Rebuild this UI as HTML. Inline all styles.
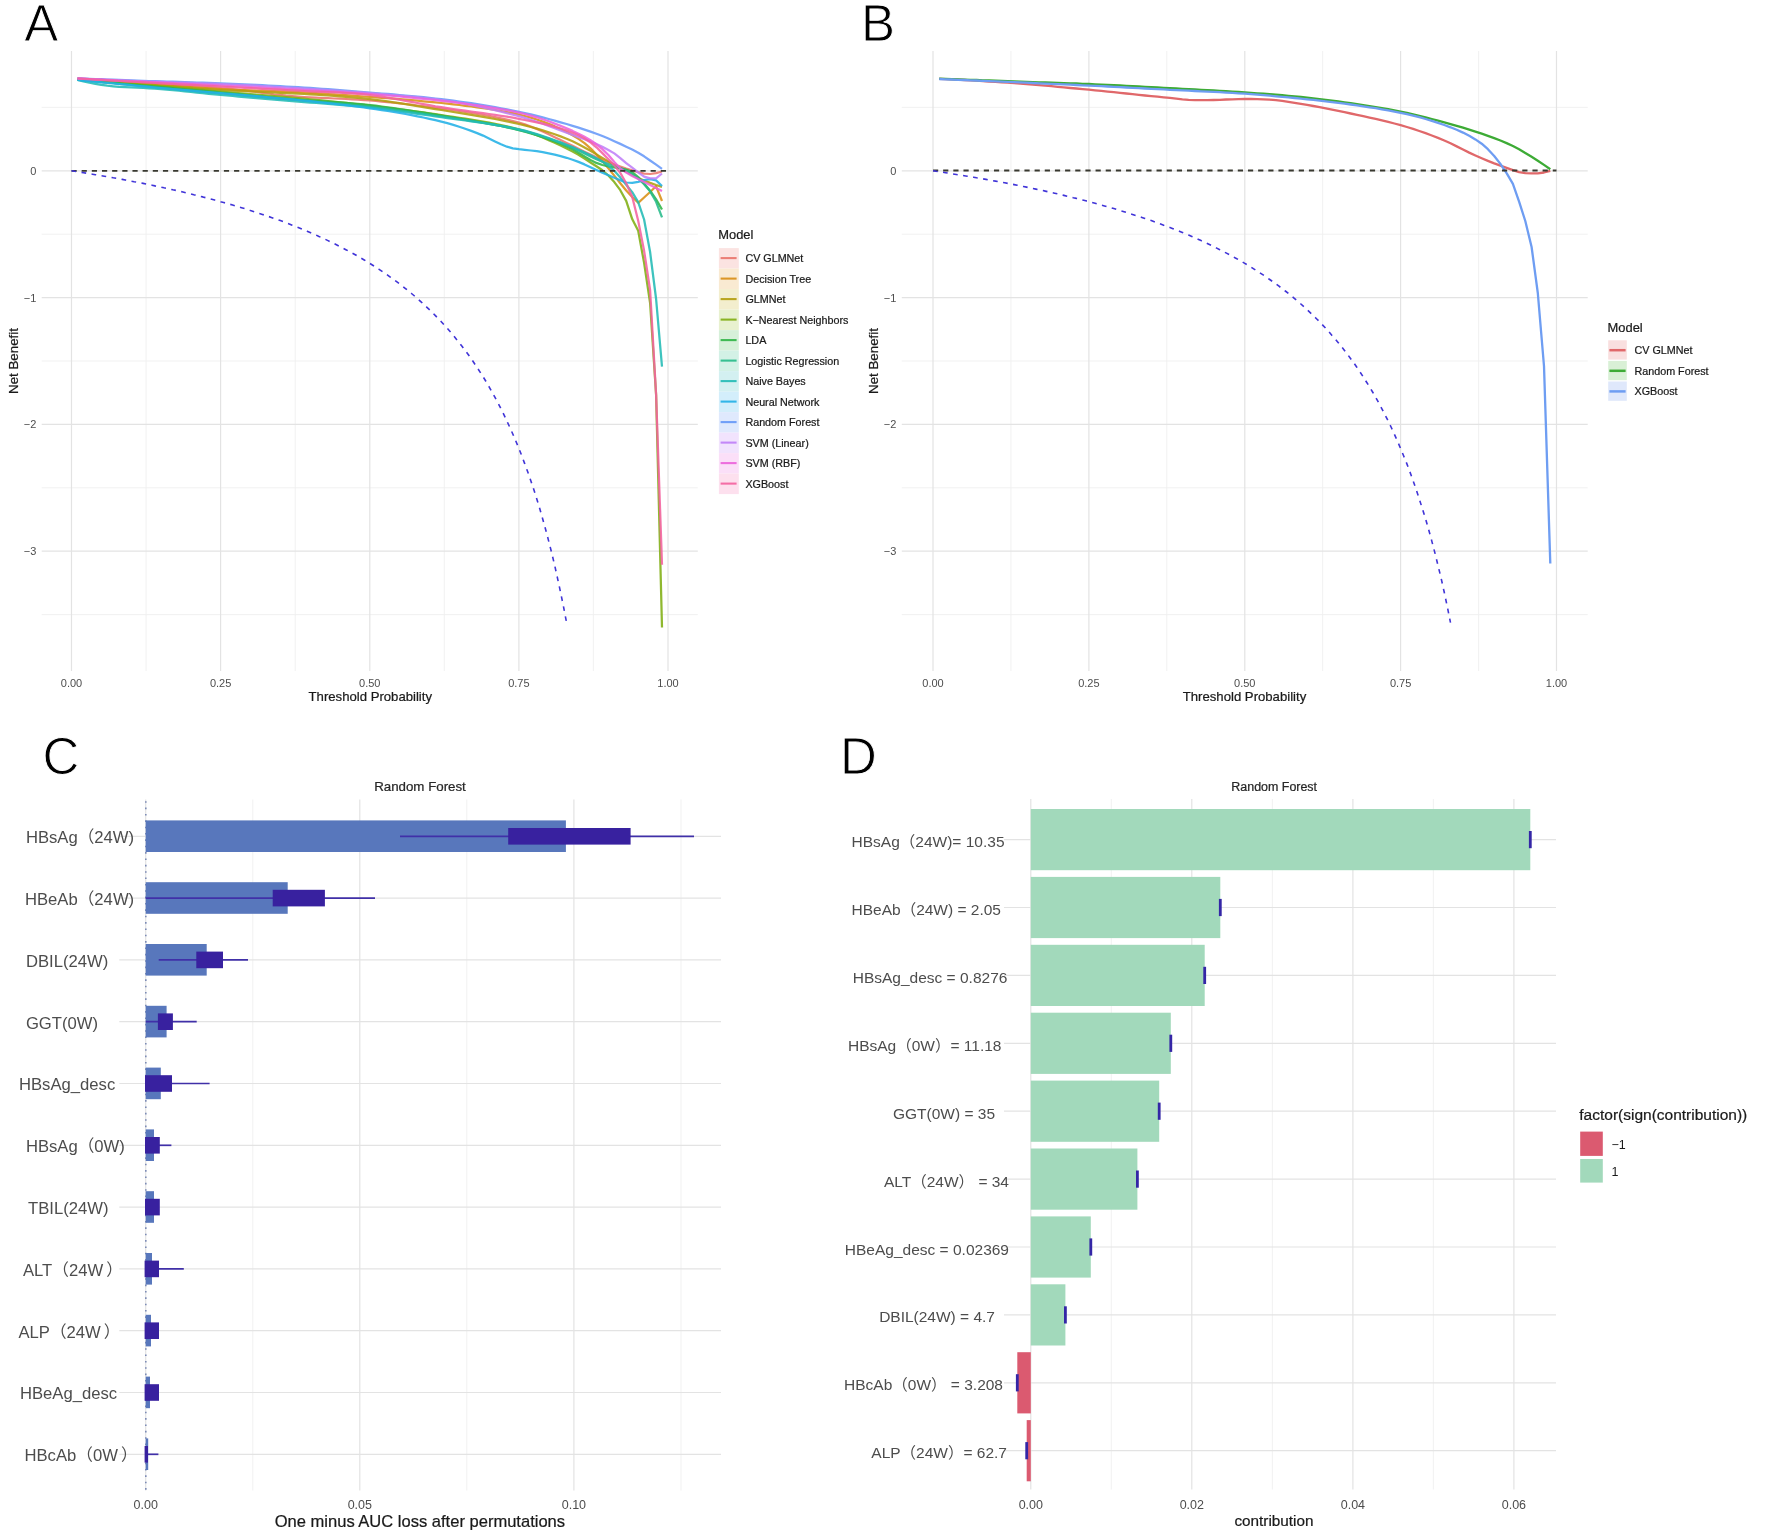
<!DOCTYPE html>
<html lang="en">
<head>
<meta charset="utf-8">
<title>Decision curve analysis and Random Forest feature importance</title>
<style>
html,body{margin:0;padding:0;background:#fff;}
body{width:1772px;height:1534px;overflow:hidden;}
svg{display:block;filter:blur(0.4px);font-family:'Liberation Sans', 'Noto Sans CJK SC', sans-serif;}
</style>
</head>
<body>
<svg width="1772" height="1534" viewBox="0 0 1772 1534">
<rect width="1772" height="1534" fill="#ffffff"/>
<line x1="146.1" y1="51" x2="146.1" y2="671" stroke="#efefef" stroke-width="0.9" />
<line x1="295.2" y1="51" x2="295.2" y2="671" stroke="#efefef" stroke-width="0.9" />
<line x1="444.3" y1="51" x2="444.3" y2="671" stroke="#efefef" stroke-width="0.9" />
<line x1="593.4" y1="51" x2="593.4" y2="671" stroke="#efefef" stroke-width="0.9" />
<line x1="41.7" y1="107.4" x2="697.8" y2="107.4" stroke="#efefef" stroke-width="0.9" />
<line x1="41.7" y1="234.2" x2="697.8" y2="234.2" stroke="#efefef" stroke-width="0.9" />
<line x1="41.7" y1="361" x2="697.8" y2="361" stroke="#efefef" stroke-width="0.9" />
<line x1="41.7" y1="487.8" x2="697.8" y2="487.8" stroke="#efefef" stroke-width="0.9" />
<line x1="41.7" y1="614.6" x2="697.8" y2="614.6" stroke="#efefef" stroke-width="0.9" />
<line x1="71.5" y1="51" x2="71.5" y2="671" stroke="#e3e3e3" stroke-width="1.2" />
<line x1="220.6" y1="51" x2="220.6" y2="671" stroke="#e3e3e3" stroke-width="1.2" />
<line x1="369.8" y1="51" x2="369.8" y2="671" stroke="#e3e3e3" stroke-width="1.2" />
<line x1="518.9" y1="51" x2="518.9" y2="671" stroke="#e3e3e3" stroke-width="1.2" />
<line x1="668" y1="51" x2="668" y2="671" stroke="#e3e3e3" stroke-width="1.2" />
<line x1="41.7" y1="170.8" x2="697.8" y2="170.8" stroke="#e3e3e3" stroke-width="1.2" />
<line x1="41.7" y1="297.6" x2="697.8" y2="297.6" stroke="#e3e3e3" stroke-width="1.2" />
<line x1="41.7" y1="424.4" x2="697.8" y2="424.4" stroke="#e3e3e3" stroke-width="1.2" />
<line x1="41.7" y1="551.2" x2="697.8" y2="551.2" stroke="#e3e3e3" stroke-width="1.2" />
<text x="71.5" y="686.8" font-size="11" fill="#4d4d4d" text-anchor="middle" >0.00</text>
<text x="220.6" y="686.8" font-size="11" fill="#4d4d4d" text-anchor="middle" >0.25</text>
<text x="369.8" y="686.8" font-size="11" fill="#4d4d4d" text-anchor="middle" >0.50</text>
<text x="518.9" y="686.8" font-size="11" fill="#4d4d4d" text-anchor="middle" >0.75</text>
<text x="668" y="686.8" font-size="11" fill="#4d4d4d" text-anchor="middle" >1.00</text>
<text x="36.3" y="174.8" font-size="11" fill="#4d4d4d" text-anchor="end" >0</text>
<text x="36.3" y="301.6" font-size="11" fill="#4d4d4d" text-anchor="end" >−1</text>
<text x="36.3" y="428.4" font-size="11" fill="#4d4d4d" text-anchor="end" >−2</text>
<text x="36.3" y="555.2" font-size="11" fill="#4d4d4d" text-anchor="end" >−3</text>
<text x="370.3" y="701" font-size="13.15" fill="#1a1a1a" text-anchor="middle" stroke="#1a1a1a" stroke-width="0.22">Threshold Probability</text>
<text transform="translate(18 361) rotate(-90)" font-size="13.3" fill="#1a1a1a" text-anchor="middle" stroke="#1a1a1a" stroke-width="0.22">Net Benefit</text>
<text x="24.3" y="41.1" font-size="51" fill="#000" text-anchor="start" stroke="#fff" stroke-width="0.9">A</text>
<path d="M77.5 78.8 L83.4 79.2 L89.4 79.5 L95.4 79.9 L101.3 80.3 L107.3 80.7 L113.3 81.1 L119.2 81.4 L125.2 81.8 L131.2 82.2 L137.1 82.6 L143.1 83 L149 83.3 L155 83.7 L161 84.1 L166.9 84.4 L172.9 84.8 L178.9 85.1 L184.8 85.5 L190.8 85.9 L196.8 86.3 L202.7 86.7 L208.7 87.1 L214.7 87.5 L220.6 88 L226.6 88.5 L232.6 89.1 L238.5 89.8 L244.5 90.5 L250.4 91.2 L256.4 92 L262.4 92.8 L268.3 93.5 L274.3 94.3 L280.3 94.9 L286.2 95.6 L292.2 96.1 L298.2 96.6 L304.1 97 L310.1 97.4 L316.1 97.7 L322 98 L328 98.2 L334 98.5 L339.9 98.7 L345.9 99 L351.9 99.3 L357.8 99.7 L363.8 100.1 L369.8 100.5 L375.7 101 L381.7 101.6 L387.6 102.1 L393.6 102.7 L399.6 103.4 L405.5 104 L411.5 104.7 L417.5 105.5 L423.4 106.2 L429.4 107 L435.4 107.8 L441.3 108.6 L447.3 109.4 L453.3 110.2 L459.2 111 L465.2 111.9 L471.2 112.9 L477.1 113.8 L483.1 114.9 L489 115.9 L495 117.1 L501 118.3 L506.9 119.6 L512.9 121.1 L518.9 122.6 L524.8 124.4 L530.8 126.5 L536.8 128.9 L542.7 131.5 L548.7 134.3 L554.7 137.2 L560.6 140.1 L566.6 143 L572.6 145.8 L578.5 148.7 L584.5 151.7 L590.5 154.6 L596.4 157.3 L602.4 159.8 L608.4 162.2 L614.3 164.5 L620.3 166.6 L626.2 168.6 L632.2 170.3 L638.2 172.1 L644.1 173.6 L650.1 174 L656.1 173.2 L662 171.5" fill="none" stroke="#ea746b" stroke-width="2.25" stroke-linejoin="round" stroke-opacity="0.88"/>
<path d="M77.5 78.6 L83.4 79.1 L89.4 79.5 L95.4 80 L101.3 80.4 L107.3 80.9 L113.3 81.3 L119.2 81.7 L125.2 82.2 L131.2 82.6 L137.1 83.1 L143.1 83.5 L149 83.9 L155 84.4 L161 84.8 L166.9 85.3 L172.9 85.7 L178.9 86.2 L184.8 86.6 L190.8 87.1 L196.8 87.5 L202.7 87.9 L208.7 88.3 L214.7 88.6 L220.6 89 L226.6 89.3 L232.6 89.6 L238.5 89.8 L244.5 90.1 L250.4 90.3 L256.4 90.5 L262.4 90.7 L268.3 91 L274.3 91.2 L280.3 91.4 L286.2 91.7 L292.2 91.9 L298.2 92.2 L304.1 92.5 L310.1 92.9 L316.1 93.2 L322 93.6 L328 94 L334 94.4 L339.9 94.8 L345.9 95.2 L351.9 95.6 L357.8 96 L363.8 96.5 L369.8 96.9 L375.7 97.4 L381.7 97.8 L387.6 98.2 L393.6 98.7 L399.6 99.2 L405.5 99.7 L411.5 100.2 L417.5 100.7 L423.4 101.3 L429.4 101.8 L435.4 102.4 L441.3 103 L447.3 103.7 L453.3 104.4 L459.2 105 L465.2 105.8 L471.2 106.5 L477.1 107.3 L483.1 108.1 L489 109 L495 110 L501 111 L506.9 112.1 L512.9 113.2 L518.9 114.5 L524.8 116 L530.8 117.6 L536.8 119.5 L542.7 121.6 L548.7 123.9 L554.7 126.4 L560.6 129.1 L566.6 132 L572.6 135.2 L578.5 138.9 L584.5 143.2 L590.5 148.3 L596.4 154.2 L602.4 161 L608.4 168.2 L614.3 175.6 L620.3 183.2 L626.2 190.5 L632.2 197 L638.2 202.8 L644.1 197.5 L650.1 192 L656.1 186.3 L662 201" fill="none" stroke="#d98f14" stroke-width="2.25" stroke-linejoin="round" stroke-opacity="0.88"/>
<path d="M77.5 78.9 L83.4 79.4 L89.4 79.8 L95.4 80.3 L101.3 80.8 L107.3 81.3 L113.3 81.7 L119.2 82.2 L125.2 82.7 L131.2 83.1 L137.1 83.6 L143.1 84.1 L149 84.5 L155 85 L161 85.5 L166.9 86 L172.9 86.4 L178.9 86.9 L184.8 87.4 L190.8 87.9 L196.8 88.3 L202.7 88.8 L208.7 89.2 L214.7 89.6 L220.6 90 L226.6 90.3 L232.6 90.6 L238.5 90.9 L244.5 91.2 L250.4 91.5 L256.4 91.7 L262.4 92 L268.3 92.3 L274.3 92.5 L280.3 92.8 L286.2 93.1 L292.2 93.4 L298.2 93.7 L304.1 94 L310.1 94.4 L316.1 94.7 L322 95.1 L328 95.5 L334 95.9 L339.9 96.3 L345.9 96.8 L351.9 97.3 L357.8 97.8 L363.8 98.4 L369.8 99.1 L375.7 99.8 L381.7 100.5 L387.6 101.4 L393.6 102.3 L399.6 103.2 L405.5 104.1 L411.5 105.1 L417.5 106.1 L423.4 107.1 L429.4 108.1 L435.4 109.1 L441.3 110 L447.3 111 L453.3 112 L459.2 112.9 L465.2 113.9 L471.2 114.8 L477.1 115.8 L483.1 116.9 L489 117.9 L495 119 L501 120.2 L506.9 121.4 L512.9 122.6 L518.9 124 L524.8 125.4 L530.8 127 L536.8 128.6 L542.7 130.4 L548.7 132.3 L554.7 134.3 L560.6 136.4 L566.6 138.7 L572.6 141.3 L578.5 144.2 L584.5 147.4 L590.5 150.8 L596.4 154.4 L602.4 157.9 L608.4 161.4 L614.3 164.8 L620.3 168.3 L626.2 171.8 L632.2 175 L638.2 178 L644.1 180.6 L650.1 182.9 L656.1 185 L662 186.9" fill="none" stroke="#b39e0c" stroke-width="2.25" stroke-linejoin="round" stroke-opacity="0.88"/>
<path d="M77.5 79.5 L83.4 80 L89.4 80.5 L95.4 81 L101.3 81.5 L107.3 82 L113.3 82.4 L119.2 82.9 L125.2 83.4 L131.2 83.9 L137.1 84.4 L143.1 84.9 L149 85.4 L155 85.9 L161 86.4 L166.9 86.9 L172.9 87.4 L178.9 87.9 L184.8 88.4 L190.8 88.9 L196.8 89.4 L202.7 89.9 L208.7 90.5 L214.7 91 L220.6 91.5 L226.6 92 L232.6 92.5 L238.5 93 L244.5 93.5 L250.4 94 L256.4 94.5 L262.4 95 L268.3 95.5 L274.3 96 L280.3 96.5 L286.2 97 L292.2 97.6 L298.2 98.1 L304.1 98.7 L310.1 99.3 L316.1 99.9 L322 100.4 L328 101 L334 101.7 L339.9 102.3 L345.9 102.9 L351.9 103.6 L357.8 104.3 L363.8 104.9 L369.8 105.6 L375.7 106.3 L381.7 107 L387.6 107.8 L393.6 108.5 L399.6 109.3 L405.5 110 L411.5 110.8 L417.5 111.6 L423.4 112.4 L429.4 113.3 L435.4 114.2 L441.3 115.1 L447.3 116 L453.3 116.9 L459.2 117.8 L465.2 118.7 L471.2 119.6 L477.1 120.6 L483.1 121.6 L489 122.7 L495 123.9 L501 125.1 L506.9 126.4 L512.9 127.8 L518.9 129.3 L524.8 131 L530.8 132.9 L536.8 135.1 L542.7 137.5 L548.7 140.1 L554.7 142.8 L560.6 145.5 L566.6 148.4 L572.6 151.4 L578.5 154.7 L584.5 158.5 L590.5 162.5 L596.4 166.2 L602.4 170.3 L608.4 175.5 L614.3 182.1 L620.3 190.2 L626.2 200.9 L632.2 219.1 L638.2 230.7 L644.1 262.8 L650.1 303 L656.1 394.7 L662 627.5" fill="none" stroke="#80ae12" stroke-width="2.25" stroke-linejoin="round" stroke-opacity="0.88"/>
<path d="M77.5 79.6 L83.4 80.1 L89.4 80.7 L95.4 81.2 L101.3 81.8 L107.3 82.3 L113.3 82.9 L119.2 83.4 L125.2 84 L131.2 84.5 L137.1 85 L143.1 85.6 L149 86.1 L155 86.6 L161 87.2 L166.9 87.7 L172.9 88.2 L178.9 88.8 L184.8 89.3 L190.8 89.8 L196.8 90.3 L202.7 90.9 L208.7 91.4 L214.7 91.9 L220.6 92.5 L226.6 93 L232.6 93.6 L238.5 94.1 L244.5 94.7 L250.4 95.3 L256.4 95.9 L262.4 96.4 L268.3 97 L274.3 97.6 L280.3 98.1 L286.2 98.6 L292.2 99.2 L298.2 99.6 L304.1 100.1 L310.1 100.5 L316.1 100.9 L322 101.3 L328 101.7 L334 102.1 L339.9 102.4 L345.9 102.9 L351.9 103.3 L357.8 103.8 L363.8 104.4 L369.8 105 L375.7 105.7 L381.7 106.5 L387.6 107.3 L393.6 108.1 L399.6 109 L405.5 109.9 L411.5 110.8 L417.5 111.8 L423.4 112.7 L429.4 113.7 L435.4 114.7 L441.3 115.6 L447.3 116.6 L453.3 117.6 L459.2 118.5 L465.2 119.5 L471.2 120.5 L477.1 121.5 L483.1 122.6 L489 123.7 L495 124.8 L501 126 L506.9 127.3 L512.9 128.6 L518.9 130.1 L524.8 131.6 L530.8 133.3 L536.8 135.1 L542.7 137.1 L548.7 139.2 L554.7 141.4 L560.6 143.8 L566.6 146.4 L572.6 149.3 L578.5 152.7 L584.5 156.4 L590.5 160 L596.4 162.9 L602.4 165 L608.4 166.4 L614.3 167.4 L620.3 168.3 L626.2 169.6 L632.2 172.1 L638.2 177.1 L644.1 183.6 L650.1 190.7 L656.1 199.4 L662 209.5" fill="none" stroke="#2fb545" stroke-width="2.25" stroke-linejoin="round" stroke-opacity="0.88"/>
<path d="M77.5 79.7 L83.4 80.3 L89.4 80.9 L95.4 81.5 L101.3 82.1 L107.3 82.6 L113.3 83.2 L119.2 83.8 L125.2 84.4 L131.2 85 L137.1 85.6 L143.1 86.1 L149 86.7 L155 87.3 L161 87.9 L166.9 88.4 L172.9 89 L178.9 89.6 L184.8 90.1 L190.8 90.7 L196.8 91.3 L202.7 91.8 L208.7 92.4 L214.7 92.9 L220.6 93.5 L226.6 94 L232.6 94.5 L238.5 95 L244.5 95.6 L250.4 96.1 L256.4 96.6 L262.4 97.1 L268.3 97.6 L274.3 98.1 L280.3 98.6 L286.2 99.1 L292.2 99.6 L298.2 100.1 L304.1 100.6 L310.1 101.1 L316.1 101.6 L322 102.1 L328 102.6 L334 103.1 L339.9 103.6 L345.9 104.1 L351.9 104.7 L357.8 105.3 L363.8 105.9 L369.8 106.6 L375.7 107.3 L381.7 108 L387.6 108.7 L393.6 109.5 L399.6 110.3 L405.5 111.1 L411.5 112 L417.5 112.8 L423.4 113.7 L429.4 114.6 L435.4 115.5 L441.3 116.3 L447.3 117.2 L453.3 118.1 L459.2 119 L465.2 119.9 L471.2 120.9 L477.1 121.8 L483.1 122.8 L489 123.8 L495 124.9 L501 126 L506.9 127.2 L512.9 128.4 L518.9 129.8 L524.8 131.3 L530.8 132.9 L536.8 134.6 L542.7 136.5 L548.7 138.5 L554.7 140.7 L560.6 142.9 L566.6 145.2 L572.6 147.7 L578.5 150.5 L584.5 153.4 L590.5 156.4 L596.4 159.2 L602.4 161.8 L608.4 164 L614.3 166 L620.3 168.1 L626.2 170.7 L632.2 174.1 L638.2 178.5 L644.1 184.2 L650.1 191.4 L656.1 201.8 L662 217.4" fill="none" stroke="#27bb8a" stroke-width="2.25" stroke-linejoin="round" stroke-opacity="0.88"/>
<path d="M77.5 80 L83.4 81.4 L89.4 82.7 L95.4 83.8 L101.3 84.9 L107.3 85.7 L113.3 86.3 L119.2 86.8 L125.2 87.1 L131.2 87.4 L137.1 87.7 L143.1 88 L149 88.3 L155 88.7 L161 89.1 L166.9 89.6 L172.9 90.2 L178.9 90.7 L184.8 91.4 L190.8 92 L196.8 92.6 L202.7 93.2 L208.7 93.8 L214.7 94.4 L220.6 95 L226.6 95.5 L232.6 96 L238.5 96.6 L244.5 97.1 L250.4 97.6 L256.4 98.1 L262.4 98.6 L268.3 99.2 L274.3 99.7 L280.3 100.2 L286.2 100.7 L292.2 101.2 L298.2 101.6 L304.1 102.1 L310.1 102.6 L316.1 103 L322 103.5 L328 103.9 L334 104.3 L339.9 104.8 L345.9 105.3 L351.9 105.8 L357.8 106.3 L363.8 106.9 L369.8 107.5 L375.7 108.2 L381.7 108.9 L387.6 109.7 L393.6 110.5 L399.6 111.3 L405.5 112.1 L411.5 112.9 L417.5 113.8 L423.4 114.7 L429.4 115.5 L435.4 116.4 L441.3 117.2 L447.3 118.1 L453.3 118.9 L459.2 119.7 L465.2 120.5 L471.2 121.3 L477.1 122.1 L483.1 123 L489 123.9 L495 124.8 L501 125.9 L506.9 126.9 L512.9 128.1 L518.9 129.3 L524.8 130.7 L530.8 132.3 L536.8 134 L542.7 136 L548.7 138 L554.7 140.2 L560.6 142.4 L566.6 144.7 L572.6 147.1 L578.5 149.7 L584.5 152.4 L590.5 155.3 L596.4 158.3 L602.4 161.6 L608.4 165.8 L614.3 170.8 L620.3 177.6 L626.2 184.7 L632.2 192.2 L638.2 202.1 L644.1 219.5 L650.1 252 L656.1 299 L662 366.6" fill="none" stroke="#22bbb5" stroke-width="2.25" stroke-linejoin="round" stroke-opacity="0.88"/>
<path d="M77.5 80 L83.4 80.6 L89.4 81.2 L95.4 81.8 L101.3 82.4 L107.3 83 L113.3 83.5 L119.2 84.1 L125.2 84.7 L131.2 85.2 L137.1 85.8 L143.1 86.4 L149 86.9 L155 87.5 L161 88 L166.9 88.5 L172.9 89 L178.9 89.6 L184.8 90.1 L190.8 90.6 L196.8 91.1 L202.7 91.6 L208.7 92.1 L214.7 92.6 L220.6 93.2 L226.6 93.7 L232.6 94.2 L238.5 94.7 L244.5 95.2 L250.4 95.7 L256.4 96.2 L262.4 96.7 L268.3 97.3 L274.3 97.8 L280.3 98.3 L286.2 98.9 L292.2 99.4 L298.2 100 L304.1 100.6 L310.1 101.2 L316.1 101.9 L322 102.5 L328 103.2 L334 103.8 L339.9 104.5 L345.9 105.2 L351.9 106 L357.8 106.7 L363.8 107.5 L369.8 108.3 L375.7 109.2 L381.7 110.1 L387.6 111 L393.6 111.9 L399.6 112.9 L405.5 114 L411.5 115.1 L417.5 116.3 L423.4 117.5 L429.4 118.8 L435.4 120.2 L441.3 121.6 L447.3 123.2 L453.3 124.9 L459.2 126.8 L465.2 128.8 L471.2 130.9 L477.1 133.1 L483.1 135.6 L489 138.4 L495 141.4 L501 144.3 L506.9 146.7 L512.9 148.3 L518.9 149.2 L524.8 149.9 L530.8 150.5 L536.8 151.2 L542.7 152.1 L548.7 153.3 L554.7 154.6 L560.6 156.1 L566.6 157.8 L572.6 159.7 L578.5 161.9 L584.5 164.4 L590.5 167.2 L596.4 169.9 L602.4 172.6 L608.4 175.2 L614.3 177.7 L620.3 180.3 L626.2 182.5 L632.2 182.9 L638.2 181.9 L644.1 180 L650.1 179.1 L656.1 180.4 L662 186" fill="none" stroke="#22b0e6" stroke-width="2.25" stroke-linejoin="round" stroke-opacity="0.88"/>
<path d="M77.5 78.3 L83.4 78.5 L89.4 78.8 L95.4 79 L101.3 79.2 L107.3 79.5 L113.3 79.7 L119.2 79.9 L125.2 80.1 L131.2 80.3 L137.1 80.5 L143.1 80.8 L149 81 L155 81.2 L161 81.4 L166.9 81.5 L172.9 81.7 L178.9 81.9 L184.8 82.1 L190.8 82.3 L196.8 82.5 L202.7 82.7 L208.7 82.9 L214.7 83.1 L220.6 83.3 L226.6 83.5 L232.6 83.8 L238.5 84 L244.5 84.3 L250.4 84.6 L256.4 84.9 L262.4 85.2 L268.3 85.5 L274.3 85.8 L280.3 86.2 L286.2 86.5 L292.2 86.8 L298.2 87.2 L304.1 87.6 L310.1 87.9 L316.1 88.4 L322 88.8 L328 89.2 L334 89.6 L339.9 90.1 L345.9 90.6 L351.9 91 L357.8 91.5 L363.8 92 L369.8 92.5 L375.7 93 L381.7 93.5 L387.6 93.9 L393.6 94.4 L399.6 95 L405.5 95.5 L411.5 96 L417.5 96.6 L423.4 97.2 L429.4 97.8 L435.4 98.5 L441.3 99.2 L447.3 99.9 L453.3 100.7 L459.2 101.5 L465.2 102.3 L471.2 103.2 L477.1 104.2 L483.1 105.1 L489 106.2 L495 107.2 L501 108.3 L506.9 109.4 L512.9 110.6 L518.9 111.8 L524.8 113.1 L530.8 114.4 L536.8 115.9 L542.7 117.4 L548.7 119 L554.7 120.6 L560.6 122.3 L566.6 124 L572.6 125.8 L578.5 127.6 L584.5 129.6 L590.5 131.6 L596.4 133.7 L602.4 136 L608.4 138.5 L614.3 141.2 L620.3 143.9 L626.2 146.7 L632.2 149.6 L638.2 152.7 L644.1 156.3 L650.1 160.5 L656.1 164.7 L662 168.9" fill="none" stroke="#6698f8" stroke-width="2.25" stroke-linejoin="round" stroke-opacity="0.88"/>
<path d="M77.5 78.6 L83.4 78.8 L89.4 79.1 L95.4 79.3 L101.3 79.6 L107.3 79.8 L113.3 80.1 L119.2 80.3 L125.2 80.5 L131.2 80.8 L137.1 81 L143.1 81.2 L149 81.5 L155 81.7 L161 81.9 L166.9 82.1 L172.9 82.3 L178.9 82.5 L184.8 82.7 L190.8 82.9 L196.8 83.1 L202.7 83.3 L208.7 83.5 L214.7 83.7 L220.6 84 L226.6 84.3 L232.6 84.5 L238.5 84.8 L244.5 85.1 L250.4 85.4 L256.4 85.7 L262.4 86.1 L268.3 86.4 L274.3 86.8 L280.3 87.1 L286.2 87.5 L292.2 87.8 L298.2 88.2 L304.1 88.6 L310.1 88.9 L316.1 89.3 L322 89.7 L328 90.1 L334 90.5 L339.9 90.9 L345.9 91.3 L351.9 91.8 L357.8 92.2 L363.8 92.7 L369.8 93.2 L375.7 93.6 L381.7 94.1 L387.6 94.6 L393.6 95.1 L399.6 95.6 L405.5 96.1 L411.5 96.7 L417.5 97.2 L423.4 97.9 L429.4 98.5 L435.4 99.2 L441.3 100 L447.3 100.8 L453.3 101.7 L459.2 102.7 L465.2 103.8 L471.2 104.9 L477.1 106.1 L483.1 107.4 L489 108.8 L495 110.2 L501 111.6 L506.9 113.1 L512.9 114.6 L518.9 116.2 L524.8 117.9 L530.8 119.8 L536.8 121.7 L542.7 123.8 L548.7 125.9 L554.7 128.2 L560.6 130.4 L566.6 132.7 L572.6 134.9 L578.5 137.1 L584.5 139.3 L590.5 141.6 L596.4 144.1 L602.4 146.8 L608.4 150 L614.3 153.4 L620.3 158.1 L626.2 163.1 L632.2 167.7 L638.2 172.4 L644.1 176.6 L650.1 178.3 L656.1 178.3 L662 173.5" fill="none" stroke="#bf7ff8" stroke-width="2.25" stroke-linejoin="round" stroke-opacity="0.88"/>
<path d="M77.5 78.4 L83.4 78.7 L89.4 79 L95.4 79.3 L101.3 79.6 L107.3 79.9 L113.3 80.2 L119.2 80.5 L125.2 80.8 L131.2 81.1 L137.1 81.4 L143.1 81.7 L149 82 L155 82.2 L161 82.5 L166.9 82.8 L172.9 83.1 L178.9 83.4 L184.8 83.7 L190.8 84 L196.8 84.3 L202.7 84.6 L208.7 84.9 L214.7 85.2 L220.6 85.5 L226.6 85.8 L232.6 86.1 L238.5 86.4 L244.5 86.7 L250.4 87.1 L256.4 87.4 L262.4 87.7 L268.3 88 L274.3 88.4 L280.3 88.7 L286.2 89 L292.2 89.4 L298.2 89.7 L304.1 90 L310.1 90.4 L316.1 90.7 L322 91 L328 91.3 L334 91.7 L339.9 92 L345.9 92.4 L351.9 92.8 L357.8 93.2 L363.8 93.6 L369.8 94 L375.7 94.5 L381.7 95 L387.6 95.5 L393.6 96 L399.6 96.5 L405.5 97.1 L411.5 97.7 L417.5 98.3 L423.4 98.9 L429.4 99.5 L435.4 100.2 L441.3 100.8 L447.3 101.5 L453.3 102.2 L459.2 103 L465.2 103.7 L471.2 104.5 L477.1 105.3 L483.1 106.2 L489 107.1 L495 108.1 L501 109.1 L506.9 110.2 L512.9 111.4 L518.9 112.6 L524.8 114 L530.8 115.6 L536.8 117.3 L542.7 119.3 L548.7 121.3 L554.7 123.6 L560.6 125.9 L566.6 128.3 L572.6 130.9 L578.5 133.7 L584.5 136.8 L590.5 140.3 L596.4 144.3 L602.4 149.1 L608.4 155 L614.3 161.9 L620.3 168.5 L626.2 172.6 L632.2 176 L638.2 179 L644.1 182.1 L650.1 185.1 L656.1 188 L662 191" fill="none" stroke="#ec62dc" stroke-width="2.25" stroke-linejoin="round" stroke-opacity="0.88"/>
<path d="M77.5 78.5 L83.4 78.9 L89.4 79.2 L95.4 79.6 L101.3 79.9 L107.3 80.3 L113.3 80.6 L119.2 81 L125.2 81.3 L131.2 81.6 L137.1 82 L143.1 82.3 L149 82.6 L155 83 L161 83.3 L166.9 83.6 L172.9 83.9 L178.9 84.3 L184.8 84.6 L190.8 84.9 L196.8 85.2 L202.7 85.5 L208.7 85.8 L214.7 86.2 L220.6 86.5 L226.6 86.8 L232.6 87.1 L238.5 87.5 L244.5 87.8 L250.4 88.1 L256.4 88.4 L262.4 88.8 L268.3 89.1 L274.3 89.4 L280.3 89.7 L286.2 90.1 L292.2 90.4 L298.2 90.7 L304.1 91 L310.1 91.3 L316.1 91.6 L322 91.9 L328 92.1 L334 92.4 L339.9 92.7 L345.9 93.1 L351.9 93.4 L357.8 93.9 L363.8 94.4 L369.8 95 L375.7 95.8 L381.7 96.6 L387.6 97.6 L393.6 98.6 L399.6 99.7 L405.5 100.8 L411.5 101.9 L417.5 103 L423.4 104.1 L429.4 105.2 L435.4 106.3 L441.3 107.2 L447.3 108.1 L453.3 109 L459.2 109.8 L465.2 110.7 L471.2 111.5 L477.1 112.3 L483.1 113.1 L489 114 L495 114.8 L501 115.8 L506.9 116.7 L512.9 117.7 L518.9 118.8 L524.8 120 L530.8 121.1 L536.8 122.4 L542.7 123.7 L548.7 125.2 L554.7 126.8 L560.6 128.5 L566.6 130.4 L572.6 132.7 L578.5 135.3 L584.5 138.5 L590.5 142.4 L596.4 147.3 L602.4 153.1 L608.4 159.3 L614.3 165.4 L620.3 172.9 L626.2 183.3 L632.2 196.7 L638.2 220.8 L644.1 250.8 L650.1 290 L656.1 394.7 L662 564.7" fill="none" stroke="#f4629f" stroke-width="2.25" stroke-linejoin="round" stroke-opacity="0.88"/>
<line x1="71.5" y1="170.8" x2="668" y2="170.8" stroke="#38382f" stroke-width="1.8" stroke-dasharray="5.2 4.96"/>
<path d="M71.5 170.8 L74.5 171.3 L77.5 171.7 L80.4 172.2 L83.4 172.7 L86.4 173.2 L89.4 173.7 L92.4 174.2 L95.4 174.7 L98.3 175.2 L101.3 175.7 L104.3 176.2 L107.3 176.7 L110.3 177.2 L113.3 177.8 L116.2 178.3 L119.2 178.8 L122.2 179.4 L125.2 180 L128.2 180.5 L131.2 181.1 L134.1 181.7 L137.1 182.2 L140.1 182.8 L143.1 183.4 L146.1 184 L149 184.6 L152 185.2 L155 185.9 L158 186.5 L161 187.1 L164 187.8 L166.9 188.4 L169.9 189.1 L172.9 189.8 L175.9 190.4 L178.9 191.1 L181.9 191.8 L184.8 192.5 L187.8 193.2 L190.8 193.9 L193.8 194.7 L196.8 195.4 L199.7 196.2 L202.7 196.9 L205.7 197.7 L208.7 198.4 L211.7 199.2 L214.7 200 L217.6 200.8 L220.6 201.7 L223.6 202.5 L226.6 203.3 L229.6 204.2 L232.6 205 L235.5 205.9 L238.5 206.8 L241.5 207.7 L244.5 208.6 L247.5 209.5 L250.4 210.5 L253.4 211.4 L256.4 212.4 L259.4 213.4 L262.4 214.4 L265.4 215.4 L268.3 216.4 L271.3 217.4 L274.3 218.5 L277.3 219.6 L280.3 220.6 L283.3 221.7 L286.2 222.9 L289.2 224 L292.2 225.2 L295.2 226.3 L298.2 227.5 L301.2 228.7 L304.1 230 L307.1 231.2 L310.1 232.5 L313.1 233.8 L316.1 235.1 L319 236.5 L322 237.8 L325 239.2 L328 240.6 L331 242.1 L334 243.5 L336.9 245 L339.9 246.5 L342.9 248.1 L345.9 249.7 L348.9 251.3 L351.9 252.9 L354.8 254.5 L357.8 256.2 L360.8 258 L363.8 259.7 L366.8 261.5 L369.8 263.4 L372.7 265.2 L375.7 267.1 L378.7 269.1 L381.7 271.1 L384.7 273.1 L387.6 275.2 L390.6 277.3 L393.6 279.5 L396.6 281.7 L399.6 283.9 L402.6 286.2 L405.5 288.6 L408.5 291 L411.5 293.5 L414.5 296 L417.5 298.6 L420.5 301.3 L423.4 304 L426.4 306.8 L429.4 309.6 L432.4 312.6 L435.4 315.6 L438.3 318.7 L441.3 321.8 L444.3 325.1 L447.3 328.4 L450.3 331.8 L453.3 335.4 L456.2 339 L459.2 342.7 L462.2 346.5 L465.2 350.5 L468.2 354.5 L471.2 358.7 L474.1 363 L477.1 367.5 L480.1 372.1 L483.1 376.8 L486.1 381.7 L489.1 386.8 L492 392 L495 397.4 L498 403 L501 408.8 L504 414.8 L506.9 421.1 L509.9 427.5 L512.9 434.3 L515.9 441.2 L518.9 448.5 L521.9 456 L524.8 463.9 L527.8 472.1 L530.8 480.7 L533.8 489.6 L536.8 499 L539.8 508.8 L542.7 519 L545.7 529.8 L548.7 541.1 L551.7 552.9 L554.7 565.4 L557.6 578.6 L560.6 592.5 L563.6 607.2 L566.6 622.7" fill="none" stroke="#4034d8" stroke-width="1.6" stroke-linejoin="round" stroke-dasharray="4.7 5.45"/>
<text x="718.3" y="238.6" font-size="12.9" fill="#1a1a1a" text-anchor="start" stroke="#1a1a1a" stroke-width="0.22">Model</text>
<rect x="718.9" y="248.1" width="19.9" height="20.5" fill="#fbe3e1"/>
<line x1="720.6" y1="258.1" x2="736.6" y2="258.1" stroke="#ea746b" stroke-width="2.1" opacity="0.9"/>
<text x="745.4" y="262" font-size="10.75" fill="#1a1a1a" text-anchor="start" stroke="#1a1a1a" stroke-width="0.22">CV GLMNet</text>
<rect x="718.9" y="268.6" width="19.9" height="20.5" fill="#f9ead2"/>
<line x1="720.6" y1="278.6" x2="736.6" y2="278.6" stroke="#d98f14" stroke-width="2.1" opacity="0.9"/>
<text x="745.4" y="282.5" font-size="10.75" fill="#1a1a1a" text-anchor="start" stroke="#1a1a1a" stroke-width="0.22">Decision Tree</text>
<rect x="718.9" y="289.1" width="19.9" height="20.5" fill="#f3eece"/>
<line x1="720.6" y1="299.1" x2="736.6" y2="299.1" stroke="#b39e0c" stroke-width="2.1" opacity="0.9"/>
<text x="745.4" y="303" font-size="10.75" fill="#1a1a1a" text-anchor="start" stroke="#1a1a1a" stroke-width="0.22">GLMNet</text>
<rect x="718.9" y="309.6" width="19.9" height="20.5" fill="#e8f1cf"/>
<line x1="720.6" y1="319.6" x2="736.6" y2="319.6" stroke="#80ae12" stroke-width="2.1" opacity="0.9"/>
<text x="745.4" y="323.5" font-size="10.75" fill="#1a1a1a" text-anchor="start" stroke="#1a1a1a" stroke-width="0.22">K−Nearest Neighbors</text>
<rect x="718.9" y="330.1" width="19.9" height="20.5" fill="#d6f0d9"/>
<line x1="720.6" y1="340.1" x2="736.6" y2="340.1" stroke="#2fb545" stroke-width="2.1" opacity="0.9"/>
<text x="745.4" y="344" font-size="10.75" fill="#1a1a1a" text-anchor="start" stroke="#1a1a1a" stroke-width="0.22">LDA</text>
<rect x="718.9" y="350.6" width="19.9" height="20.5" fill="#d3f1e6"/>
<line x1="720.6" y1="360.6" x2="736.6" y2="360.6" stroke="#27bb8a" stroke-width="2.1" opacity="0.9"/>
<text x="745.4" y="364.5" font-size="10.75" fill="#1a1a1a" text-anchor="start" stroke="#1a1a1a" stroke-width="0.22">Logistic Regression</text>
<rect x="718.9" y="371.1" width="19.9" height="20.5" fill="#d3f0f1"/>
<line x1="720.6" y1="381.1" x2="736.6" y2="381.1" stroke="#22bbb5" stroke-width="2.1" opacity="0.9"/>
<text x="745.4" y="385" font-size="10.75" fill="#1a1a1a" text-anchor="start" stroke="#1a1a1a" stroke-width="0.22">Naive Bayes</text>
<rect x="718.9" y="391.6" width="19.9" height="20.5" fill="#d3eefb"/>
<line x1="720.6" y1="401.6" x2="736.6" y2="401.6" stroke="#22b0e6" stroke-width="2.1" opacity="0.9"/>
<text x="745.4" y="405.5" font-size="10.75" fill="#1a1a1a" text-anchor="start" stroke="#1a1a1a" stroke-width="0.22">Neural Network</text>
<rect x="718.9" y="412.1" width="19.9" height="20.5" fill="#dfe9fd"/>
<line x1="720.6" y1="422.1" x2="736.6" y2="422.1" stroke="#6698f8" stroke-width="2.1" opacity="0.9"/>
<text x="745.4" y="426" font-size="10.75" fill="#1a1a1a" text-anchor="start" stroke="#1a1a1a" stroke-width="0.22">Random Forest</text>
<rect x="718.9" y="432.6" width="19.9" height="20.5" fill="#f1e3fd"/>
<line x1="720.6" y1="442.6" x2="736.6" y2="442.6" stroke="#bf7ff8" stroke-width="2.1" opacity="0.9"/>
<text x="745.4" y="446.5" font-size="10.75" fill="#1a1a1a" text-anchor="start" stroke="#1a1a1a" stroke-width="0.22">SVM (Linear)</text>
<rect x="718.9" y="453.1" width="19.9" height="20.5" fill="#fbdff8"/>
<line x1="720.6" y1="463.1" x2="736.6" y2="463.1" stroke="#ec62dc" stroke-width="2.1" opacity="0.9"/>
<text x="745.4" y="467" font-size="10.75" fill="#1a1a1a" text-anchor="start" stroke="#1a1a1a" stroke-width="0.22">SVM (RBF)</text>
<rect x="718.9" y="473.6" width="19.9" height="20.5" fill="#fde0ee"/>
<line x1="720.6" y1="483.6" x2="736.6" y2="483.6" stroke="#f4629f" stroke-width="2.1" opacity="0.9"/>
<text x="745.4" y="487.5" font-size="10.75" fill="#1a1a1a" text-anchor="start" stroke="#1a1a1a" stroke-width="0.22">XGBoost</text>
<line x1="1010.9" y1="51" x2="1010.9" y2="671" stroke="#efefef" stroke-width="0.9" />
<line x1="1166.8" y1="51" x2="1166.8" y2="671" stroke="#efefef" stroke-width="0.9" />
<line x1="1322.7" y1="51" x2="1322.7" y2="671" stroke="#efefef" stroke-width="0.9" />
<line x1="1478.6" y1="51" x2="1478.6" y2="671" stroke="#efefef" stroke-width="0.9" />
<line x1="901.8" y1="107.4" x2="1587.7" y2="107.4" stroke="#efefef" stroke-width="0.9" />
<line x1="901.8" y1="234.2" x2="1587.7" y2="234.2" stroke="#efefef" stroke-width="0.9" />
<line x1="901.8" y1="361" x2="1587.7" y2="361" stroke="#efefef" stroke-width="0.9" />
<line x1="901.8" y1="487.8" x2="1587.7" y2="487.8" stroke="#efefef" stroke-width="0.9" />
<line x1="901.8" y1="614.6" x2="1587.7" y2="614.6" stroke="#efefef" stroke-width="0.9" />
<line x1="933" y1="51" x2="933" y2="671" stroke="#e3e3e3" stroke-width="1.2" />
<line x1="1088.9" y1="51" x2="1088.9" y2="671" stroke="#e3e3e3" stroke-width="1.2" />
<line x1="1244.8" y1="51" x2="1244.8" y2="671" stroke="#e3e3e3" stroke-width="1.2" />
<line x1="1400.6" y1="51" x2="1400.6" y2="671" stroke="#e3e3e3" stroke-width="1.2" />
<line x1="1556.5" y1="51" x2="1556.5" y2="671" stroke="#e3e3e3" stroke-width="1.2" />
<line x1="901.8" y1="170.8" x2="1587.7" y2="170.8" stroke="#e3e3e3" stroke-width="1.2" />
<line x1="901.8" y1="297.6" x2="1587.7" y2="297.6" stroke="#e3e3e3" stroke-width="1.2" />
<line x1="901.8" y1="424.4" x2="1587.7" y2="424.4" stroke="#e3e3e3" stroke-width="1.2" />
<line x1="901.8" y1="551.2" x2="1587.7" y2="551.2" stroke="#e3e3e3" stroke-width="1.2" />
<text x="933" y="686.8" font-size="11" fill="#4d4d4d" text-anchor="middle" >0.00</text>
<text x="1088.9" y="686.8" font-size="11" fill="#4d4d4d" text-anchor="middle" >0.25</text>
<text x="1244.8" y="686.8" font-size="11" fill="#4d4d4d" text-anchor="middle" >0.50</text>
<text x="1400.6" y="686.8" font-size="11" fill="#4d4d4d" text-anchor="middle" >0.75</text>
<text x="1556.5" y="686.8" font-size="11" fill="#4d4d4d" text-anchor="middle" >1.00</text>
<text x="896.4" y="174.8" font-size="11" fill="#4d4d4d" text-anchor="end" >0</text>
<text x="896.4" y="301.6" font-size="11" fill="#4d4d4d" text-anchor="end" >−1</text>
<text x="896.4" y="428.4" font-size="11" fill="#4d4d4d" text-anchor="end" >−2</text>
<text x="896.4" y="555.2" font-size="11" fill="#4d4d4d" text-anchor="end" >−3</text>
<text x="1244.5" y="701" font-size="13.15" fill="#1a1a1a" text-anchor="middle" stroke="#1a1a1a" stroke-width="0.22">Threshold Probability</text>
<text transform="translate(877.5 361) rotate(-90)" font-size="13.3" fill="#1a1a1a" text-anchor="middle" stroke="#1a1a1a" stroke-width="0.22">Net Benefit</text>
<text x="861" y="40.6" font-size="51" fill="#000" text-anchor="start" stroke="#fff" stroke-width="0.9">B</text>
<path d="M939.2 78.8 L945.5 79.1 L951.7 79.4 L957.9 79.7 L964.2 80 L970.4 80.4 L976.6 80.7 L982.9 81.1 L989.1 81.5 L995.4 81.9 L1001.6 82.3 L1007.8 82.7 L1014.1 83.2 L1020.3 83.6 L1026.5 84.1 L1032.8 84.6 L1039 85.1 L1045.2 85.7 L1051.5 86.2 L1057.7 86.8 L1063.9 87.4 L1070.2 88 L1076.4 88.5 L1082.6 89.1 L1088.9 89.7 L1095.1 90.3 L1101.3 90.9 L1107.6 91.6 L1113.8 92.2 L1120 92.9 L1126.3 93.5 L1132.5 94.2 L1138.8 94.8 L1145 95.5 L1151.2 96.1 L1157.5 96.7 L1163.7 97.3 L1169.9 97.9 L1176.2 98.6 L1182.4 99.3 L1188.6 99.8 L1194.9 100.1 L1201.1 100.2 L1207.3 100.1 L1213.6 100 L1219.8 99.8 L1226 99.5 L1232.3 99.3 L1238.5 99.1 L1244.8 99 L1251 99 L1257.2 99.2 L1263.5 99.4 L1269.7 99.7 L1275.9 100.2 L1282.2 100.9 L1288.4 101.8 L1294.6 102.8 L1300.9 103.8 L1307.1 104.9 L1313.3 106 L1319.6 107.2 L1325.8 108.4 L1332 109.6 L1338.3 110.9 L1344.5 112.2 L1350.7 113.5 L1357 114.8 L1363.2 116.2 L1369.5 117.6 L1375.7 118.9 L1381.9 120.4 L1388.2 121.9 L1394.4 123.5 L1400.6 125.2 L1406.9 127 L1413.1 128.9 L1419.3 131 L1425.6 133.2 L1431.8 135.5 L1438 137.9 L1444.3 140.5 L1450.5 143.3 L1456.7 146.4 L1463 149.5 L1469.2 152.6 L1475.4 155.5 L1481.7 158.3 L1487.9 160.9 L1494.2 163.4 L1500.4 165.7 L1506.6 167.9 L1512.9 170.2 L1519.1 172.1 L1525.3 173.1 L1531.6 173.3 L1537.8 173.3 L1544 172.5 L1550.3 170.9" fill="none" stroke="#e0686a" stroke-width="2.3" stroke-linejoin="round" />
<path d="M939.2 78.6 L945.5 78.8 L951.7 79.1 L957.9 79.3 L964.2 79.6 L970.4 79.8 L976.6 80 L982.9 80.3 L989.1 80.5 L995.4 80.7 L1001.6 81 L1007.8 81.2 L1014.1 81.4 L1020.3 81.6 L1026.5 81.8 L1032.8 82.1 L1039 82.3 L1045.2 82.5 L1051.5 82.7 L1057.7 82.9 L1063.9 83.1 L1070.2 83.3 L1076.4 83.5 L1082.6 83.8 L1088.9 84 L1095.1 84.3 L1101.3 84.6 L1107.6 84.9 L1113.8 85.2 L1120 85.5 L1126.3 85.8 L1132.5 86.1 L1138.8 86.5 L1145 86.8 L1151.2 87.2 L1157.5 87.5 L1163.7 87.8 L1169.9 88.2 L1176.2 88.5 L1182.4 88.8 L1188.6 89.2 L1194.9 89.5 L1201.1 89.8 L1207.3 90.2 L1213.6 90.5 L1219.8 90.9 L1226 91.2 L1232.3 91.6 L1238.5 92 L1244.8 92.4 L1251 92.8 L1257.2 93.3 L1263.5 93.7 L1269.7 94.2 L1275.9 94.7 L1282.2 95.2 L1288.4 95.8 L1294.6 96.4 L1300.9 97 L1307.1 97.6 L1313.3 98.4 L1319.6 99.1 L1325.8 99.9 L1332 100.7 L1338.3 101.5 L1344.5 102.3 L1350.7 103.2 L1357 104.1 L1363.2 105.1 L1369.5 106.1 L1375.7 107.1 L1381.9 108.1 L1388.2 109.2 L1394.4 110.4 L1400.6 111.6 L1406.9 112.9 L1413.1 114.3 L1419.3 115.8 L1425.6 117.3 L1431.8 119 L1438 120.6 L1444.3 122.3 L1450.5 124.1 L1456.7 125.8 L1463 127.7 L1469.2 129.6 L1475.4 131.6 L1481.7 133.7 L1487.9 135.9 L1494.2 138.1 L1500.4 140.5 L1506.6 143.1 L1512.9 146 L1519.1 149.3 L1525.3 153 L1531.6 156.8 L1537.8 160.7 L1544 164.9 L1550.3 169.2" fill="none" stroke="#3dab35" stroke-width="2.3" stroke-linejoin="round" />
<path d="M939.2 79 L945.5 79.3 L951.7 79.5 L957.9 79.8 L964.2 80 L970.4 80.3 L976.6 80.5 L982.9 80.8 L989.1 81.1 L995.4 81.3 L1001.6 81.6 L1007.8 81.9 L1014.1 82.2 L1020.3 82.4 L1026.5 82.7 L1032.8 83 L1039 83.3 L1045.2 83.6 L1051.5 83.8 L1057.7 84.1 L1063.9 84.4 L1070.2 84.7 L1076.4 85 L1082.6 85.3 L1088.9 85.6 L1095.1 85.9 L1101.3 86.2 L1107.6 86.5 L1113.8 86.9 L1120 87.2 L1126.3 87.5 L1132.5 87.8 L1138.8 88.1 L1145 88.5 L1151.2 88.8 L1157.5 89.1 L1163.7 89.4 L1169.9 89.8 L1176.2 90.1 L1182.4 90.4 L1188.6 90.7 L1194.9 91 L1201.1 91.3 L1207.3 91.6 L1213.6 91.9 L1219.8 92.2 L1226 92.6 L1232.3 92.9 L1238.5 93.3 L1244.8 93.7 L1251 94.2 L1257.2 94.6 L1263.5 95.2 L1269.7 95.7 L1275.9 96.3 L1282.2 96.9 L1288.4 97.4 L1294.6 98 L1300.9 98.6 L1307.1 99.3 L1313.3 99.9 L1319.6 100.6 L1325.8 101.3 L1332 102.1 L1338.3 102.9 L1344.5 103.7 L1350.7 104.5 L1357 105.4 L1363.2 106.3 L1369.5 107.3 L1375.7 108.2 L1381.9 109.3 L1388.2 110.4 L1394.4 111.6 L1400.6 112.8 L1406.9 114.1 L1413.1 115.6 L1419.3 117.2 L1425.6 119 L1431.8 120.9 L1438 122.9 L1444.3 125 L1450.5 127.3 L1456.7 129.8 L1463 132.6 L1469.2 135.8 L1475.4 139.4 L1481.7 143.7 L1487.9 149.2 L1494.2 156 L1500.4 163.9 L1506.6 173.2 L1512.9 183.9 L1519.1 201.6 L1525.3 221 L1531.6 247 L1537.8 293 L1544 366 L1550.3 563.5" fill="none" stroke="#6e9df2" stroke-width="2.3" stroke-linejoin="round" />
<line x1="933" y1="170.5" x2="1556.5" y2="170.5" stroke="#38382f" stroke-width="1.8" stroke-dasharray="5.2 4.96"/>
<path d="M933 170.8 L936.1 171.3 L939.2 171.7 L942.4 172.2 L945.5 172.7 L948.6 173.2 L951.7 173.7 L954.8 174.2 L957.9 174.7 L961.1 175.2 L964.2 175.7 L967.3 176.2 L970.4 176.7 L973.5 177.2 L976.6 177.8 L979.8 178.3 L982.9 178.8 L986 179.4 L989.1 180 L992.2 180.5 L995.4 181.1 L998.5 181.7 L1001.6 182.2 L1004.7 182.8 L1007.8 183.4 L1010.9 184 L1014.1 184.6 L1017.2 185.2 L1020.3 185.9 L1023.4 186.5 L1026.5 187.1 L1029.6 187.8 L1032.8 188.4 L1035.9 189.1 L1039 189.8 L1042.1 190.4 L1045.2 191.1 L1048.3 191.8 L1051.5 192.5 L1054.6 193.2 L1057.7 193.9 L1060.8 194.7 L1063.9 195.4 L1067.1 196.2 L1070.2 196.9 L1073.3 197.7 L1076.4 198.4 L1079.5 199.2 L1082.6 200 L1085.8 200.8 L1088.9 201.7 L1092 202.5 L1095.1 203.3 L1098.2 204.2 L1101.3 205 L1104.5 205.9 L1107.6 206.8 L1110.7 207.7 L1113.8 208.6 L1116.9 209.5 L1120 210.5 L1123.2 211.4 L1126.3 212.4 L1129.4 213.4 L1132.5 214.4 L1135.6 215.4 L1138.8 216.4 L1141.9 217.4 L1145 218.5 L1148.1 219.6 L1151.2 220.6 L1154.3 221.7 L1157.5 222.9 L1160.6 224 L1163.7 225.2 L1166.8 226.3 L1169.9 227.5 L1173 228.7 L1176.2 230 L1179.3 231.2 L1182.4 232.5 L1185.5 233.8 L1188.6 235.1 L1191.8 236.5 L1194.9 237.8 L1198 239.2 L1201.1 240.6 L1204.2 242.1 L1207.3 243.5 L1210.5 245 L1213.6 246.5 L1216.7 248.1 L1219.8 249.7 L1222.9 251.3 L1226 252.9 L1229.2 254.5 L1232.3 256.2 L1235.4 258 L1238.5 259.7 L1241.6 261.5 L1244.8 263.4 L1247.9 265.2 L1251 267.1 L1254.1 269.1 L1257.2 271.1 L1260.3 273.1 L1263.5 275.2 L1266.6 277.3 L1269.7 279.5 L1272.8 281.7 L1275.9 283.9 L1279 286.2 L1282.2 288.6 L1285.3 291 L1288.4 293.5 L1291.5 296 L1294.6 298.6 L1297.7 301.3 L1300.9 304 L1304 306.8 L1307.1 309.6 L1310.2 312.6 L1313.3 315.6 L1316.5 318.7 L1319.6 321.8 L1322.7 325.1 L1325.8 328.4 L1328.9 331.8 L1332 335.4 L1335.2 339 L1338.3 342.7 L1341.4 346.5 L1344.5 350.5 L1347.6 354.5 L1350.7 358.7 L1353.9 363 L1357 367.5 L1360.1 372.1 L1363.2 376.8 L1366.3 381.7 L1369.5 386.8 L1372.6 392 L1375.7 397.4 L1378.8 403 L1381.9 408.8 L1385 414.8 L1388.2 421.1 L1391.3 427.5 L1394.4 434.3 L1397.5 441.2 L1400.6 448.5 L1403.7 456 L1406.9 463.9 L1410 472.1 L1413.1 480.7 L1416.2 489.6 L1419.3 499 L1422.4 508.8 L1425.6 519 L1428.7 529.8 L1431.8 541.1 L1434.9 552.9 L1438 565.4 L1441.2 578.6 L1444.3 592.5 L1447.4 607.2 L1450.5 622.7" fill="none" stroke="#4034d8" stroke-width="1.6" stroke-linejoin="round" stroke-dasharray="4.7 5.45"/>
<text x="1607.6" y="331.7" font-size="12.9" fill="#1a1a1a" text-anchor="start" stroke="#1a1a1a" stroke-width="0.22">Model</text>
<rect x="1608.2" y="340.3" width="18.6" height="19.3" fill="#f9dfdf"/>
<line x1="1609.4" y1="350.2" x2="1625.6" y2="350.2" stroke="#e0686a" stroke-width="2.5" />
<text x="1634.5" y="353.9" font-size="10.75" fill="#1a1a1a" text-anchor="start" stroke="#1a1a1a" stroke-width="0.22">CV GLMNet</text>
<rect x="1608.2" y="360.9" width="18.6" height="19.3" fill="#d9f0d6"/>
<line x1="1609.4" y1="370.8" x2="1625.6" y2="370.8" stroke="#3dab35" stroke-width="2.5" />
<text x="1634.5" y="374.5" font-size="10.75" fill="#1a1a1a" text-anchor="start" stroke="#1a1a1a" stroke-width="0.22">Random Forest</text>
<rect x="1608.2" y="381.5" width="18.6" height="19.3" fill="#dfe8fb"/>
<line x1="1609.4" y1="391.4" x2="1625.6" y2="391.4" stroke="#6e9df2" stroke-width="2.5" />
<text x="1634.5" y="395.1" font-size="10.75" fill="#1a1a1a" text-anchor="start" stroke="#1a1a1a" stroke-width="0.22">XGBoost</text>
<line x1="252.8" y1="799.5" x2="252.8" y2="1490.5" stroke="#efefef" stroke-width="0.9" />
<line x1="466.8" y1="799.5" x2="466.8" y2="1490.5" stroke="#efefef" stroke-width="0.9" />
<line x1="681" y1="799.5" x2="681" y2="1490.5" stroke="#efefef" stroke-width="0.9" />
<line x1="145.7" y1="799.5" x2="145.7" y2="1490.5" stroke="#e3e3e3" stroke-width="1.2" />
<line x1="359.8" y1="799.5" x2="359.8" y2="1490.5" stroke="#e3e3e3" stroke-width="1.2" />
<line x1="573.9" y1="799.5" x2="573.9" y2="1490.5" stroke="#e3e3e3" stroke-width="1.2" />
<line x1="119.3" y1="836.3" x2="721" y2="836.3" stroke="#e3e3e3" stroke-width="1.2" />
<line x1="119.3" y1="898.1" x2="721" y2="898.1" stroke="#e3e3e3" stroke-width="1.2" />
<line x1="119.3" y1="959.9" x2="721" y2="959.9" stroke="#e3e3e3" stroke-width="1.2" />
<line x1="119.3" y1="1021.7" x2="721" y2="1021.7" stroke="#e3e3e3" stroke-width="1.2" />
<line x1="119.3" y1="1083.5" x2="721" y2="1083.5" stroke="#e3e3e3" stroke-width="1.2" />
<line x1="119.3" y1="1145.3" x2="721" y2="1145.3" stroke="#e3e3e3" stroke-width="1.2" />
<line x1="119.3" y1="1207.1" x2="721" y2="1207.1" stroke="#e3e3e3" stroke-width="1.2" />
<line x1="119.3" y1="1268.9" x2="721" y2="1268.9" stroke="#e3e3e3" stroke-width="1.2" />
<line x1="119.3" y1="1330.7" x2="721" y2="1330.7" stroke="#e3e3e3" stroke-width="1.2" />
<line x1="119.3" y1="1392.5" x2="721" y2="1392.5" stroke="#e3e3e3" stroke-width="1.2" />
<line x1="119.3" y1="1454.3" x2="721" y2="1454.3" stroke="#e3e3e3" stroke-width="1.2" />
<line x1="145.8" y1="801.2" x2="145.8" y2="1490.5" stroke="#7d8cb6" stroke-width="1.6" stroke-dasharray="1.6 4.76"/>
<rect x="145.7" y="820.4" width="420.2" height="31.6" fill="#5877bc"/>
<line x1="400" y1="836.3" x2="694" y2="836.3" stroke="#4030a8" stroke-width="1.7" />
<rect x="508.2" y="828" width="122.4" height="16.6" fill="#38219f"/>
<text x="25.9" y="843.1" font-size="16.65" fill="#4d4d4d" text-anchor="start" >HBsAg（24W)</text>
<rect x="145.7" y="882.2" width="142" height="31.6" fill="#5877bc"/>
<line x1="145.7" y1="898.1" x2="375" y2="898.1" stroke="#4030a8" stroke-width="1.7" />
<rect x="272.7" y="889.8" width="52.2" height="16.6" fill="#38219f"/>
<text x="25" y="904.9" font-size="16.65" fill="#4d4d4d" text-anchor="start" >HBeAb（24W)</text>
<rect x="145.7" y="944" width="61" height="31.6" fill="#5877bc"/>
<line x1="158.7" y1="959.9" x2="248" y2="959.9" stroke="#4030a8" stroke-width="1.7" />
<rect x="196.3" y="951.6" width="26.7" height="16.6" fill="#38219f"/>
<text x="25.9" y="966.7" font-size="16.65" fill="#4d4d4d" text-anchor="start" >DBIL(24W)</text>
<rect x="145.7" y="1005.8" width="20.9" height="31.6" fill="#5877bc"/>
<line x1="145.7" y1="1021.7" x2="196.7" y2="1021.7" stroke="#4030a8" stroke-width="1.7" />
<rect x="157.9" y="1013.4" width="15" height="16.6" fill="#38219f"/>
<text x="25.9" y="1028.5" font-size="16.65" fill="#4d4d4d" text-anchor="start" >GGT(0W)</text>
<rect x="145.7" y="1067.6" width="15.1" height="31.6" fill="#5877bc"/>
<line x1="145.7" y1="1083.5" x2="209.6" y2="1083.5" stroke="#4030a8" stroke-width="1.7" />
<rect x="145" y="1075.2" width="27" height="16.6" fill="#38219f"/>
<text x="19" y="1090.3" font-size="16.65" fill="#4d4d4d" text-anchor="start" >HBsAg_desc</text>
<rect x="145.7" y="1129.4" width="8.3" height="31.6" fill="#5877bc"/>
<line x1="145.7" y1="1145.3" x2="171.4" y2="1145.3" stroke="#4030a8" stroke-width="1.7" />
<rect x="145" y="1137" width="14.8" height="16.6" fill="#38219f"/>
<text x="25.9" y="1152.1" font-size="16.65" fill="#4d4d4d" text-anchor="start" >HBsAg（0W)</text>
<rect x="145.7" y="1191.2" width="8.3" height="31.6" fill="#5877bc"/>
<rect x="145" y="1198.8" width="14.8" height="16.6" fill="#38219f"/>
<text x="28" y="1213.9" font-size="16.65" fill="#4d4d4d" text-anchor="start" >TBIL(24W)</text>
<rect x="145.7" y="1253" width="6.3" height="31.6" fill="#5877bc"/>
<line x1="145.7" y1="1268.9" x2="183.8" y2="1268.9" stroke="#4030a8" stroke-width="1.7" />
<rect x="144.6" y="1260.6" width="14.4" height="16.6" fill="#38219f"/>
<text x="23" y="1275.7" font-size="16.65" fill="#4d4d4d" text-anchor="start" >ALT（24W<tspan dx="3">）</tspan></text>
<rect x="145.7" y="1314.8" width="5.3" height="31.6" fill="#5877bc"/>
<rect x="144.6" y="1322.4" width="14.4" height="16.6" fill="#38219f"/>
<text x="18.5" y="1337.5" font-size="16.65" fill="#4d4d4d" text-anchor="start" >ALP（24W<tspan dx="3">）</tspan></text>
<rect x="145.7" y="1376.6" width="4.3" height="31.6" fill="#5877bc"/>
<rect x="144.6" y="1384.2" width="14.4" height="16.6" fill="#38219f"/>
<text x="20" y="1399.3" font-size="16.65" fill="#4d4d4d" text-anchor="start" >HBeAg_desc</text>
<rect x="145.7" y="1438.4" width="2.5" height="31.6" fill="#5877bc"/>
<line x1="145.7" y1="1454.3" x2="158.4" y2="1454.3" stroke="#4030a8" stroke-width="1.7" />
<rect x="144.6" y="1446" width="3.4" height="16.6" fill="#38219f"/>
<text x="24.5" y="1461.1" font-size="16.65" fill="#4d4d4d" text-anchor="start" >HBcAb（0W<tspan dx="3">）</tspan></text>
<text x="420" y="790.9" font-size="13.3" fill="#2b2b2b" text-anchor="middle" stroke="#1a1a1a" stroke-width="0.22">Random Forest</text>
<text x="145.7" y="1509" font-size="12.5" fill="#4d4d4d" text-anchor="middle" >0.00</text>
<text x="359.8" y="1509" font-size="12.5" fill="#4d4d4d" text-anchor="middle" >0.05</text>
<text x="573.9" y="1509" font-size="12.5" fill="#4d4d4d" text-anchor="middle" >0.10</text>
<text x="419.9" y="1526.8" font-size="16.55" fill="#1a1a1a" text-anchor="middle" stroke="#1a1a1a" stroke-width="0.22">One minus AUC loss after permutations</text>
<text x="42.4" y="773.9" font-size="51" fill="#000" text-anchor="start" stroke="#fff" stroke-width="0.9">C</text>
<line x1="1111.3" y1="799" x2="1111.3" y2="1489.5" stroke="#efefef" stroke-width="0.9" />
<line x1="1272.4" y1="799" x2="1272.4" y2="1489.5" stroke="#efefef" stroke-width="0.9" />
<line x1="1433.4" y1="799" x2="1433.4" y2="1489.5" stroke="#efefef" stroke-width="0.9" />
<line x1="1030.8" y1="799" x2="1030.8" y2="1489.5" stroke="#e3e3e3" stroke-width="1.2" />
<line x1="1191.8" y1="799" x2="1191.8" y2="1489.5" stroke="#e3e3e3" stroke-width="1.2" />
<line x1="1352.9" y1="799" x2="1352.9" y2="1489.5" stroke="#e3e3e3" stroke-width="1.2" />
<line x1="1513.9" y1="799" x2="1513.9" y2="1489.5" stroke="#e3e3e3" stroke-width="1.2" />
<line x1="1004" y1="839.6" x2="1556" y2="839.6" stroke="#e3e3e3" stroke-width="1.2" />
<line x1="1004" y1="907.5" x2="1556" y2="907.5" stroke="#e3e3e3" stroke-width="1.2" />
<line x1="1004" y1="975.4" x2="1556" y2="975.4" stroke="#e3e3e3" stroke-width="1.2" />
<line x1="1004" y1="1043.3" x2="1556" y2="1043.3" stroke="#e3e3e3" stroke-width="1.2" />
<line x1="1004" y1="1111.2" x2="1556" y2="1111.2" stroke="#e3e3e3" stroke-width="1.2" />
<line x1="1004" y1="1179.1" x2="1556" y2="1179.1" stroke="#e3e3e3" stroke-width="1.2" />
<line x1="1004" y1="1247" x2="1556" y2="1247" stroke="#e3e3e3" stroke-width="1.2" />
<line x1="1004" y1="1314.9" x2="1556" y2="1314.9" stroke="#e3e3e3" stroke-width="1.2" />
<line x1="1004" y1="1382.8" x2="1556" y2="1382.8" stroke="#e3e3e3" stroke-width="1.2" />
<line x1="1004" y1="1450.7" x2="1556" y2="1450.7" stroke="#e3e3e3" stroke-width="1.2" />
<rect x="1030.8" y="809" width="499.5" height="61.2" fill="#a2d9bb"/>
<rect x="1528.9" y="831" width="2.8" height="17.2" fill="#3426a6"/>
<text x="1004.5" y="847.1" font-size="15.5" fill="#4d4d4d" text-anchor="end" >HBsAg（24W)= 10.35</text>
<rect x="1030.8" y="876.9" width="189.5" height="61.2" fill="#a2d9bb"/>
<rect x="1218.9" y="898.9" width="2.8" height="17.2" fill="#3426a6"/>
<text x="1001" y="915" font-size="15.5" fill="#4d4d4d" text-anchor="end" >HBeAb（24W) = 2.05</text>
<rect x="1030.8" y="944.8" width="173.9" height="61.2" fill="#a2d9bb"/>
<rect x="1203.3" y="966.8" width="2.8" height="17.2" fill="#3426a6"/>
<text x="1007.4" y="982.9" font-size="15.5" fill="#4d4d4d" text-anchor="end" >HBsAg_desc = 0.8276</text>
<rect x="1030.8" y="1012.7" width="140" height="61.2" fill="#a2d9bb"/>
<rect x="1169.4" y="1034.7" width="2.8" height="17.2" fill="#3426a6"/>
<text x="1001.5" y="1050.8" font-size="15.5" fill="#4d4d4d" text-anchor="end" >HBsAg（0W）= 11.18</text>
<rect x="1030.8" y="1080.6" width="128.4" height="61.2" fill="#a2d9bb"/>
<rect x="1157.8" y="1102.6" width="2.8" height="17.2" fill="#3426a6"/>
<text x="995" y="1118.7" font-size="15.5" fill="#4d4d4d" text-anchor="end" >GGT(0W) = 35</text>
<rect x="1030.8" y="1148.5" width="106.6" height="61.2" fill="#a2d9bb"/>
<rect x="1136" y="1170.5" width="2.8" height="17.2" fill="#3426a6"/>
<text x="1009" y="1186.6" font-size="15.5" fill="#4d4d4d" text-anchor="end" >ALT（24W） = 34</text>
<rect x="1030.8" y="1216.4" width="60" height="61.2" fill="#a2d9bb"/>
<rect x="1089.4" y="1238.4" width="2.8" height="17.2" fill="#3426a6"/>
<text x="1009" y="1254.5" font-size="15.5" fill="#4d4d4d" text-anchor="end" >HBeAg_desc = 0.02369</text>
<rect x="1030.8" y="1284.3" width="34.6" height="61.2" fill="#a2d9bb"/>
<rect x="1064" y="1306.3" width="2.8" height="17.2" fill="#3426a6"/>
<text x="995" y="1322.4" font-size="15.5" fill="#4d4d4d" text-anchor="end" >DBIL(24W) = 4.7</text>
<rect x="1017.3" y="1352.2" width="13.5" height="61.2" fill="#db5a70"/>
<rect x="1015.9" y="1374.2" width="2.8" height="17.2" fill="#3426a6"/>
<text x="1003" y="1390.3" font-size="15.5" fill="#4d4d4d" text-anchor="end" >HBcAb（0W） = 3.208</text>
<rect x="1026.7" y="1420.1" width="4.1" height="61.2" fill="#db5a70"/>
<rect x="1025.3" y="1442.1" width="2.8" height="17.2" fill="#3426a6"/>
<text x="1007" y="1458.2" font-size="15.5" fill="#4d4d4d" text-anchor="end" >ALP（24W）= 62.7</text>
<text x="1274.2" y="790.9" font-size="12.45" fill="#2b2b2b" text-anchor="middle" stroke="#1a1a1a" stroke-width="0.22">Random Forest</text>
<text x="1030.8" y="1508.5" font-size="12.5" fill="#4d4d4d" text-anchor="middle" >0.00</text>
<text x="1191.8" y="1508.5" font-size="12.5" fill="#4d4d4d" text-anchor="middle" >0.02</text>
<text x="1352.9" y="1508.5" font-size="12.5" fill="#4d4d4d" text-anchor="middle" >0.04</text>
<text x="1513.9" y="1508.5" font-size="12.5" fill="#4d4d4d" text-anchor="middle" >0.06</text>
<text x="1274" y="1526.4" font-size="15.3" fill="#1a1a1a" text-anchor="middle" stroke="#1a1a1a" stroke-width="0.22">contribution</text>
<text x="839.9" y="773.6" font-size="51" fill="#000" text-anchor="start" stroke="#fff" stroke-width="0.9">D</text>
<text x="1579.3" y="1120.3" font-size="15.5" fill="#1a1a1a" text-anchor="start" stroke="#1a1a1a" stroke-width="0.22">factor(sign(contribution))</text>
<rect x="1580.2" y="1131.6" width="22.6" height="24.3" fill="#db5a70"/>
<rect x="1580.2" y="1159" width="22.6" height="23.6" fill="#a2d9bb"/>
<text x="1611.5" y="1149" font-size="12.5" fill="#1a1a1a" text-anchor="start" >−1</text>
<text x="1611.5" y="1175.5" font-size="12.5" fill="#1a1a1a" text-anchor="start" >1</text>
</svg>
</body>
</html>
